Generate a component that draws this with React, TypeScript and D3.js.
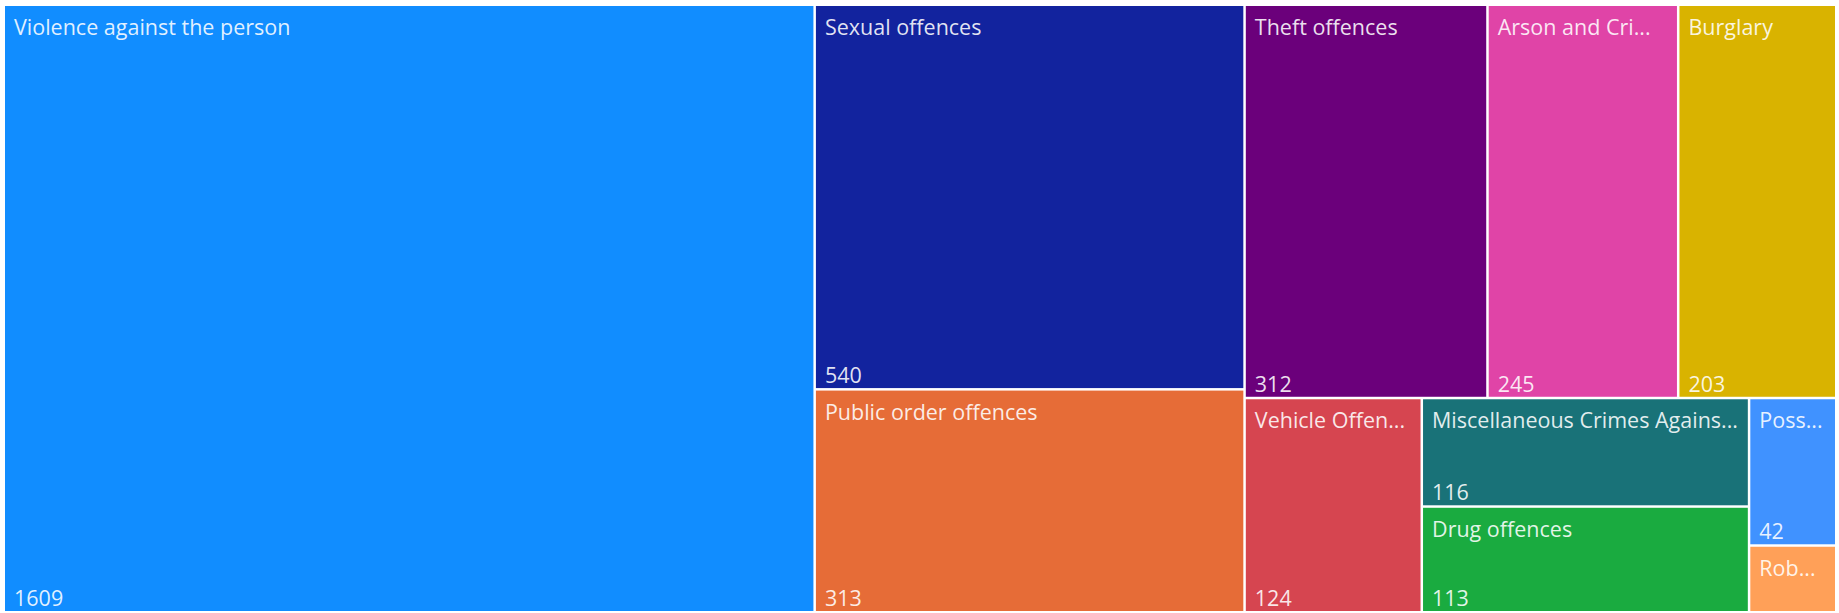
import React from "react";
import * as d3 from "d3";

const categories = [
  "Violence against the person",
  "Sexual offences",
  "Public order offences",
  "Theft offences",
  "Arson and Criminal Damage",
  "Burglary",
  "Vehicle Offences",
  "Miscellaneous Crimes Against Society",
  "Drug offences",
  "Possession of weapons offences",
  "Robbery",
];
const counts = [1609, 540, 313, 312, 245, 203, 124, 116, 113, 42, 19];
const colors = [
  "#118DFF",
  "#12239E",
  "#E66C37",
  "#6B007B",
  "#E044A7",
  "#D9B300",
  "#D64550",
  "#197278",
  "#1AAB40",
  "#4092FF",
  "#FFA058",
];

// how the visual groups its tiles: column strips on the left, or a row strip on top
const strips: { size: number; dir: "col" | "row" }[] = [
  { size: 1, dir: "col" },
  { size: 2, dir: "col" },
  { size: 3, dir: "row" },
  { size: 1, dir: "col" },
  { size: 2, dir: "col" },
  { size: 2, dir: "col" },
];

const width = 1839;
const height = 613;
const margin = { top: 6, left: 5, right: 4, bottom: 2 };
const fontSize = 21.5;
const font = `${fontSize}px 'Open Sans'`;

type Leaf = { name: string; value: number; color: string };

function stripTile(parent: any, x0: number, y0: number, x1: number, y1: number) {
  const nodes = parent.children;
  let value = parent.value;
  let i = 0;
  for (const s of strips) {
    const row = nodes.slice(i, i + s.size);
    const sum = d3.sum(row, (d: any) => d.value);
    if (s.dir === "col") {
      const xm = x0 + ((x1 - x0) * sum) / value;
      d3.treemapSlice({ children: row, value: sum } as any, x0, y0, xm, y1);
      x0 = xm;
    } else {
      const ym = y0 + ((y1 - y0) * sum) / value;
      d3.treemapDice({ children: row, value: sum } as any, x0, y0, x1, ym);
      y0 = ym;
    }
    value -= sum;
    i += s.size;
  }
}

let ctx: CanvasRenderingContext2D | null = null;
function fit(text: string, maxWidth: number) {
  if (!ctx) ctx = document.createElement("canvas").getContext("2d");
  if (!ctx) return text;
  ctx.font = font;
  if (ctx.measureText(text).width <= maxWidth) return text;
  let t = text;
  while (t.length > 1 && ctx.measureText(t + "...").width > maxWidth) t = t.slice(0, -1);
  return t.trimEnd() + "...";
}

export default function App() {
  const innerWidth = width - margin.left - margin.right;
  const innerHeight = height - margin.top - margin.bottom;

  const leaves: Leaf[] = categories.map((name, i) => ({
    name,
    value: counts[i],
    color: colors[i],
  }));

  const root = d3
    .hierarchy<any>({ children: leaves })
    .sum(d => d.value ?? 0)
    .sort((a, b) => (b.value ?? 0) - (a.value ?? 0));

  d3.treemap<any>().tile(stripTile as any).size([innerWidth, innerHeight]).paddingInner(2.5)(root);

  const nodes = root.leaves() as d3.HierarchyRectangularNode<any>[];

  return (
    <svg
      width={width}
      height={height}
      style={{ position: "absolute", left: 0, top: 0, background: "#fff" }}
      fontFamily="'Open Sans', sans-serif"
      fontSize={fontSize}
    >
      <g transform={`translate(${margin.left},${margin.top})`}>
        {nodes.map(n => {
          const w = n.x1 - n.x0;
          const h = n.y1 - n.y0;
          return (
            <g key={n.data.name}>
              <rect x={n.x0} y={n.y0} width={w} height={h} fill={n.data.color} />
              <text x={n.x0 + 9} y={n.y0 + 29} fill="#fff" fillOpacity={0.88}>
                {fit(n.data.name, w - 18)}
              </text>
              {h > 80 && (
                <text x={n.x0 + 9} y={n.y1 - 5} fill="#fff" fillOpacity={0.88}>
                  {d3.format("d")(n.data.value)}
                </text>
              )}
            </g>
          );
        })}
      </g>
    </svg>
  );
}
